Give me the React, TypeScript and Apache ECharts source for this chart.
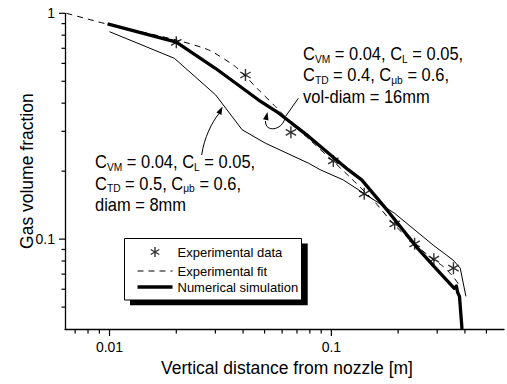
import React, { useEffect, useRef } from 'react';
import * as echarts from 'echarts';

const FONT = "'Liberation Sans', Arial, Helvetica, sans-serif";

// Axis ranges and tick values
const X_MIN = 0.0063;
const X_MAX = 0.6;
const Y_MIN = 0.04;
const Y_MAX = 1;
const X_TICKS_MAJOR = [0.01, 0.1];
const X_TICKS_MINOR = [0.007, 0.008, 0.009, 0.02, 0.03, 0.04, 0.05, 0.06, 0.07, 0.08, 0.09, 0.2, 0.3, 0.4, 0.5];
const Y_TICKS_MAJOR = [0.1, 1];
const Y_TICKS_MINOR = [0.05, 0.06, 0.07, 0.08, 0.09, 0.2, 0.3, 0.4, 0.5, 0.6, 0.7, 0.8, 0.9];

// Experimental data (stars)
const EXP_X = [0.02, 0.041, 0.0657, 0.102, 0.1406, 0.193, 0.2373, 0.2897, 0.355];
const EXP_Y = [0.744, 0.533, 0.297, 0.222, 0.1587, 0.1169, 0.0953, 0.0815, 0.0744];

// Experimental fit (dashed)
const FIT_X = [0.0064, 0.0097, 0.02, 0.028, 0.037, 0.047, 0.056, 0.066, 0.08, 0.1, 0.12, 0.157, 0.19, 0.24, 0.29, 0.32, 0.355, 0.379];
const FIT_Y = [1.0, 0.897, 0.762, 0.688, 0.58, 0.458, 0.386, 0.326, 0.275, 0.225, 0.19, 0.146, 0.117, 0.094, 0.081, 0.0755, 0.068, 0.062];

// Numerical simulation, vol-diam = 16mm (thick)
const SIM_X = [0.0098, 0.02, 0.03, 0.047, 0.058, 0.079, 0.119, 0.137, 0.18, 0.245, 0.29, 0.358, 0.366, 0.371, 0.378, 0.388];
const SIM_Y = [0.897, 0.745, 0.571, 0.413, 0.361, 0.285, 0.203, 0.183, 0.133, 0.091, 0.0758, 0.0606, 0.062, 0.058, 0.0558, 0.04];

// Simulation, diam = 8mm (thin)
const D8_X = [0.01, 0.0196, 0.0301, 0.0396, 0.0504, 0.0788, 0.089, 0.113, 0.193, 0.29, 0.353, 0.381, 0.404];
const D8_Y = [0.829, 0.632, 0.435, 0.305, 0.266, 0.217, 0.203, 0.183, 0.13, 0.0935, 0.0809, 0.0744, 0.0558];

const LEGEND_NAMES = ['Experimental data', 'Experimental fit', 'Numerical simulation'];

const STAR = 'path://M0,-5L0,5M-4.33,-2.5L4.33,2.5M-4.33,2.5L4.33,-2.5';
const STAR_LEGEND = 'path://M-17.5,-7M17.5,7M0,-5L0,5M-4.33,-2.5L4.33,2.5M-4.33,2.5L4.33,-2.5';

const zip = (xs: number[], ys: number[]) => xs.map((x, i) => [x, ys[i]]);

function arrowHead(tip: number[], from: number[], len = 8, half = 2.8) {
  const dx = tip[0] - from[0];
  const dy = tip[1] - from[1];
  const d = Math.hypot(dx, dy);
  const ux = dx / d;
  const uy = dy / d;
  const bx = tip[0] - ux * len;
  const by = tip[1] - uy * len;
  return [
    [tip[0], tip[1]],
    [bx - uy * half, by + ux * half],
    [bx + uy * half, by - ux * half],
  ];
}

const richStyles = {
  n: { fontSize: 18.5, fontFamily: FONT, lineHeight: 21.4, fill: '#000' },
  s: { fontSize: 11.5, fontFamily: FONT, lineHeight: 9, verticalAlign: 'bottom', fill: '#000' },
};

const TEXT_16MM = '{n|C}{s|VM}{n| = 0.04, C}{s|L}{n| = 0.05,}\n{n|C}{s|TD}{n| = 0.4, C}{s|μb}{n| = 0.6,}\n{n|vol-diam = 16mm}';
const TEXT_8MM = '{n|C}{s|VM}{n| = 0.04, C}{s|L}{n| = 0.05,}\n{n|C}{s|TD}{n| = 0.5, C}{s|μb}{n| = 0.6,}\n{n|diam = 8mm}';

const logLabel = (v: number) => {
  const l = Math.log10(v);
  return Math.abs(l - Math.round(l)) < 1e-6 ? String(+v.toPrecision(3)) : '';
};

export default function App() {
  const ref = useRef<HTMLDivElement>(null);
  useEffect(() => {
    if (!ref.current) return;
    const chart = echarts.init(ref.current, undefined, { renderer: 'svg' });

    const tickData = [
      ...X_TICKS_MAJOR.map((v) => [v, Y_MIN, 0, 7]),
      ...X_TICKS_MINOR.map((v) => [v, Y_MIN, 0, 4.5]),
      ...Y_TICKS_MAJOR.map((v) => [X_MIN, v, 1, 6]),
      ...Y_TICKS_MINOR.map((v) => [X_MIN, v, 1, 3.5]),
    ];

    const arrowA0 = [201.7, 155];
    const arrowA1 = [219, 113.5];
    const arrowATip = [222.5, 106.5];
    const arrowB0 = [298.3, 98.3];
    const arrowB1 = [285.5, 116.5];
    const arrowB2 = [265.5, 121];
    const arrowBTip = [267.5, 112];

    const hiddenSymbol = { color: '#000', opacity: 0 };

    const option: any = {
      animation: false,
      backgroundColor: '#fff',
      grid: { left: 65, right: 0.5, top: 13.3, bottom: 55, containLabel: false },
      xAxis: {
        type: 'log',
        logBase: 10,
        min: X_MIN,
        max: X_MAX,
        name: 'Vertical distance from nozzle [m]',
        nameLocation: 'middle',
        nameGap: 30,
        nameMoveOverlap: false,
        nameTextStyle: { fontSize: 17.5, color: '#000', fontFamily: FONT, padding: [0, 0, 0, 5] },
        axisLine: { show: true, lineStyle: { color: '#000', width: 1.3 } },
        axisTick: { show: false },
        minorTick: { show: false },
        splitLine: { show: false },
        axisLabel: { formatter: logLabel, fontSize: 14, color: '#000', fontFamily: FONT, margin: 11 },
      },
      yAxis: {
        type: 'log',
        logBase: 10,
        min: Y_MIN,
        max: Y_MAX,
        name: 'Gas volume fraction',
        nameLocation: 'middle',
        nameGap: 29,
        nameMoveOverlap: false,
        nameTextStyle: { fontSize: 17.5, color: '#000', fontFamily: FONT },
        axisLine: { show: true, lineStyle: { color: '#000', width: 1.3 } },
        axisTick: { show: false },
        minorTick: { show: false },
        splitLine: { show: false },
        axisLabel: { formatter: logLabel, fontSize: 14, color: '#000', fontFamily: FONT, margin: 10 },
      },
      legend: {
        orient: 'vertical',
        left: 135,
        top: 242.5,
        padding: 0,
        itemWidth: 35,
        itemHeight: 14,
        itemGap: 3,
        selectedMode: false,
        z: 10,
        textStyle: { fontSize: 13, color: '#000', fontFamily: FONT },
        data: [
          { name: LEGEND_NAMES[0], icon: STAR_LEGEND, itemStyle: { color: 'none', borderColor: '#000', borderWidth: 1.4 } },
          { name: LEGEND_NAMES[1], itemStyle: hiddenSymbol, lineStyle: { color: '#000', width: 1, type: [6, 5] } },
          { name: LEGEND_NAMES[2], itemStyle: hiddenSymbol, lineStyle: { color: '#000', width: 3.3, type: 'solid' } },
        ],
      },
      series: [
        {
          type: 'line',
          name: 'diam = 8mm',
          data: zip(D8_X, D8_Y),
          symbol: 'none',
          itemStyle: hiddenSymbol,
          lineStyle: { color: '#000', width: 1, join: 'round' },
          z: 2,
        },
        {
          type: 'line',
          name: LEGEND_NAMES[1],
          data: zip(FIT_X, FIT_Y),
          symbol: 'none',
          smooth: 0.2,
          itemStyle: hiddenSymbol,
          lineStyle: { color: '#000', width: 1, type: [6, 5] },
          z: 3,
        },
        {
          type: 'line',
          name: LEGEND_NAMES[2],
          data: zip(SIM_X, SIM_Y),
          symbol: 'none',
          itemStyle: hiddenSymbol,
          lineStyle: { color: '#000', width: 3.3, join: 'round' },
          z: 4,
        },
        {
          type: 'scatter',
          name: LEGEND_NAMES[0],
          data: zip(EXP_X, EXP_Y),
          symbol: STAR,
          symbolSize: 12,
          symbolKeepAspect: true,
          itemStyle: { color: 'none', borderColor: '#000', borderWidth: 1.4 },
          z: 5,
        },
        {
          type: 'custom',
          name: 'ticks',
          clip: false,
          silent: true,
          data: tickData,
          renderItem: (params: any, api: any) => {
            const p = api.coord([api.value(0), api.value(1)]);
            const vertical = api.value(2) === 0;
            const len = api.value(3);
            return {
              type: 'line',
              shape: vertical
                ? { x1: p[0], y1: p[1], x2: p[0], y2: p[1] + len }
                : { x1: p[0] - len, y1: p[1], x2: p[0], y2: p[1] },
              style: { stroke: '#000', lineWidth: 1.2 },
            };
          },
          z: 6,
        },
      ],
      graphic: [
        { type: 'rect', z: 5, shape: { x: 130, y: 243.5, width: 177.7, height: 61.7 }, style: { fill: '#000' } },
        { type: 'rect', z: 6, shape: { x: 124.5, y: 238.5, width: 177, height: 61.5 }, style: { fill: '#fff', stroke: '#000', lineWidth: 1 } },
        {
          type: 'text', z: 7, x: 303, y: 42.95, scaleX: 0.89,
          style: { text: TEXT_16MM, rich: richStyles, fill: '#000', align: 'left', verticalAlign: 'top', font: `18.5px ${FONT}` },
        },
        {
          type: 'text', z: 7, x: 95, y: 151.3, scaleX: 0.89,
          style: { text: TEXT_8MM, rich: richStyles, fill: '#000', align: 'left', verticalAlign: 'top', font: `18.5px ${FONT}` },
        },
        {
          type: 'bezierCurve', z: 7,
          shape: { x1: arrowA0[0], y1: arrowA0[1], x2: arrowA1[0], y2: arrowA1[1], cpx1: 204, cpy1: 138, cpx2: 212, cpy2: 122 },
          style: { stroke: '#000', lineWidth: 1, fill: 'none' },
        },
        { type: 'polygon', z: 7, shape: { points: arrowHead(arrowATip, arrowA1) }, style: { fill: '#000' } },
        {
          type: 'line', z: 7,
          shape: { x1: arrowB0[0], y1: arrowB0[1], x2: arrowB1[0], y2: arrowB1[1] },
          style: { stroke: '#000', lineWidth: 1 },
        },
        {
          type: 'bezierCurve', z: 7,
          shape: { x1: arrowB1[0], y1: arrowB1[1], x2: arrowB2[0], y2: arrowB2[1], cpx1: 283, cpy1: 131, cpx2: 265, cpy2: 133 },
          style: { stroke: '#000', lineWidth: 1, fill: 'none' },
        },
        { type: 'polygon', z: 7, shape: { points: arrowHead(arrowBTip, arrowB2) }, style: { fill: '#000' } },
      ],
    };

    chart.setOption(option);
    return () => chart.dispose();
  }, []);

  return (
    <div
      ref={ref}
      style={{ position: 'fixed', left: 0, top: 0, width: 507, height: 384, background: '#fff' }}
    />
  );
}
